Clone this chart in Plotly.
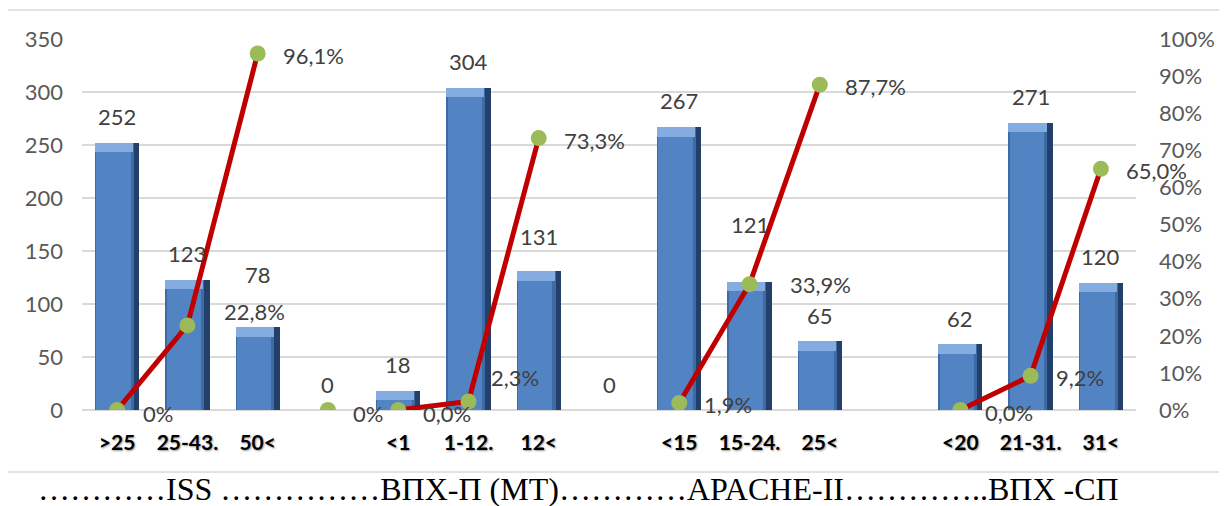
import plotly.graph_objects as go

# ---------------- data ----------------
categories = [">25", "25-43.", "50<", "", "<1", "1-12.", "12<", "",
              "<15", "15-24.", "25<", "", "<20", "21-31.", "31<"]
counts = [252, 123, 78, 0, 18, 304, 131, 0, 267, 121, 65, None, 62, 271, 120]
percent = [0.0, 22.8, 96.1, 0.0, 0.0, 2.3, 73.3, None, 1.9, 33.9, 87.7, None, 0.0, 9.2, 65.0]
percent_labels = ["0%", "22,8%", "96,1%", "0%", "0,0%", "2,3%", "73,3%", "",
                  "1,9%", "33,9%", "87,7%", "", "0,0%", "9,2%", "65,0%"]
line_groups = [0, 0, 0, 1, 2, 2, 2, None, 3, 3, 3, None, 4, 4, 4]
bottom_caption = "…………ISS ……………ВПХ-П (МТ)…………APACHE-II…………..ВПХ -СП"

# ---------------- style / layout ----------------
OFF = 8                      # page body margin of the html page
W, H = 1227 - OFF, 506 - OFF
ML, MT = 82 - OFF, 39 - OFF
PLOT_R, PLOT_B = 1136 - OFF, 410 - OFF
MR, MB = W - PLOT_R, H - PLOT_B
PW, PH = W - ML - MR, H - MT - MB
TICK_FONT = dict(family="Lato, 'Open Sans', sans-serif", size=22, color="#595959")
LABEL_FONT = dict(family="Lato, 'Open Sans', sans-serif", size=22, color="#404040")
BAR_W = 0.63
bar_lift_default = 26
bar_lift_special = {2: 53, 6: 35, 9: 57}
pct_shift_default = (25, 2)
pct_shift_special = {0: (26, 3), 1: (37, -14), 3: (25, 3), 4: (25, 3),
                     5: (23, -24), 9: (40, 0)}

x = list(range(len(categories)))
fig = go.Figure()

# bars with a simple bevel look (dark side, face, top highlight)
fig.add_trace(go.Bar(x=x, y=counts, width=BAR_W, marker=dict(color="#22406A", line_width=0),
                     hoverinfo="skip", showlegend=False))
fig.add_trace(go.Bar(x=x, y=counts, width=BAR_W * 0.88, offset=-BAR_W / 2,
                     marker=dict(color="#3E6BA5", line_width=0), hoverinfo="skip", showlegend=False))
fig.add_trace(go.Bar(x=x, y=counts, width=BAR_W * 0.78, offset=-BAR_W / 2 + BAR_W * 0.03,
                     marker=dict(color="#5284C4", line_width=0), showlegend=False))
top_h = 9
fig.add_trace(go.Bar(x=x, y=[top_h if (c and c > top_h) else None for c in counts],
                     base=[(c - top_h) if (c and c > top_h) else None for c in counts],
                     width=BAR_W * 0.86, offset=-BAR_W / 2,
                     marker=dict(color="#84ACE0", line_width=0), hoverinfo="skip", showlegend=False))

# line with breaks between groups
lx, ly = [], []
prev = "start"
for i, (p, g) in enumerate(zip(percent, line_groups)):
    if g is None:
        continue
    if prev != "start" and g != prev:
        lx.append(None)
        ly.append(None)
    lx.append(i)
    ly.append(p / 100)
    prev = g
fig.add_trace(go.Scatter(x=lx, y=ly, yaxis="y2", mode="lines+markers",
                         line=dict(color="#C00000", width=5),
                         marker=dict(color="#9BBB59", size=16, line_width=0),
                         connectgaps=False, showlegend=False))

annotations = []
for i, c in enumerate(counts):
    if c is None:
        continue
    annotations.append(dict(x=i, y=c, xref="x", yref="y", text=str(c), showarrow=False,
                            yanchor="middle", xanchor="center",
                            yshift=bar_lift_special.get(i, bar_lift_default), font=LABEL_FONT))
for i, (p, t) in enumerate(zip(percent, percent_labels)):
    if p is None or not t:
        continue
    dx, dy = pct_shift_special.get(i, pct_shift_default)
    annotations.append(dict(x=i, y=p / 100, xref="x", yref="y2", text=t, showarrow=False,
                            xanchor="left", yanchor="middle", xshift=dx - 2, yshift=-dy,
                            font=LABEL_FONT))

def px_x(px):
    return (px - OFF - ML) / PW

def px_y(py):
    return (PLOT_B - (py - OFF)) / PH

annotations.append(dict(x=px_x(578), y=px_y(489), xref="paper", yref="paper",
                        text=bottom_caption, showarrow=False, xanchor="center", yanchor="middle",
                        font=dict(family="'Liberation Serif', 'Times New Roman', serif",
                                  size=32, color="#000000")))

fig.update_layout(
    width=W, height=H,
    margin=dict(l=ML, r=MR, t=MT, b=MB, pad=0),
    paper_bgcolor="white", plot_bgcolor="white",
    barmode="overlay", bargap=0,
    annotations=annotations,
    shapes=[dict(type="rect", xref="paper", yref="paper",
                 x0=px_x(7), x1=px_x(1240), y0=px_y(472), y1=px_y(10),
                 line=dict(color="#D9D9D9", width=1.5), layer="below")],
    xaxis=dict(range=[-0.5, len(categories) - 0.5], tickmode="array", tickvals=x,
               ticktext=categories, showgrid=False, zeroline=False, showline=False,
               ticks="", ticklabelstandoff=18,
               tickfont=dict(family="Lato, 'Open Sans', sans-serif", size=21, color="#000000",
                             weight="bold", shadow="1px 1px 2px #9a9a9a")),
    yaxis=dict(range=[0, 350], dtick=50, showgrid=True, gridcolor="#D9D9D9", gridwidth=1.5,
               zeroline=True, zerolinecolor="#D9D9D9", zerolinewidth=1.5,
               showline=False, ticks="", ticklabelstandoff=18, tickfont=TICK_FONT),
    yaxis2=dict(range=[0, 1], dtick=0.1, tickformat=".0%", overlaying="y", side="right",
                showgrid=False, zeroline=False, showline=False, ticks="",
                ticklabelstandoff=22, tickfont=TICK_FONT),
)

fig.write_html("out.html")
